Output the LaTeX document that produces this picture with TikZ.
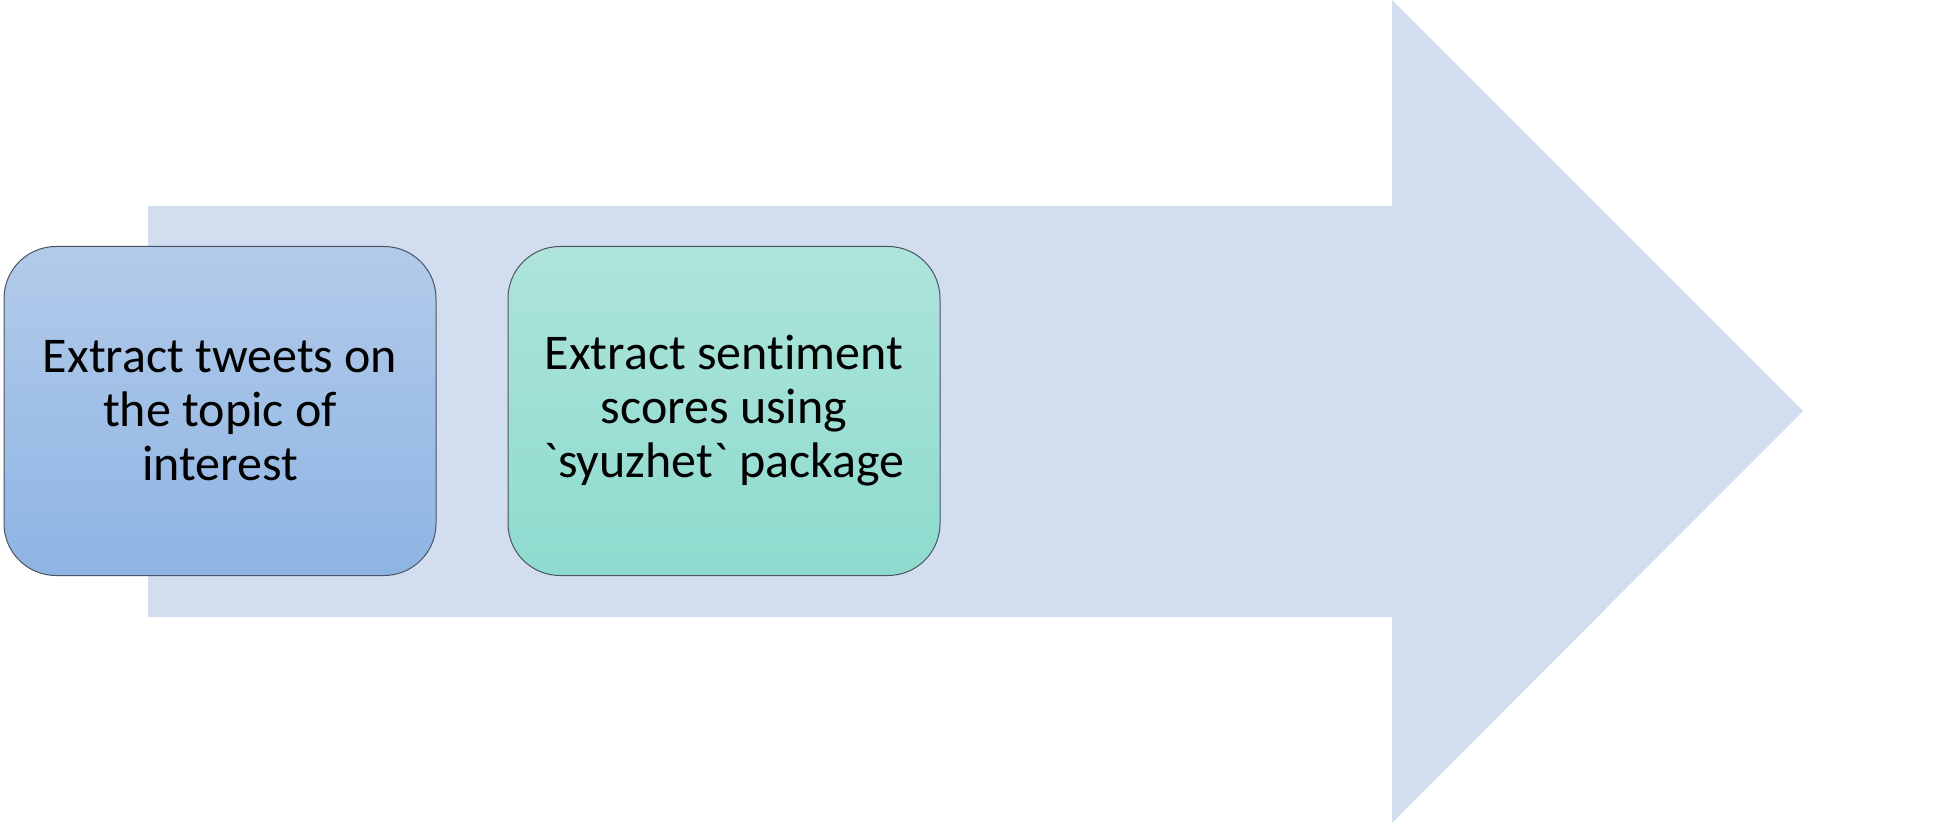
\documentclass[tikz,border=0pt]{standalone}
\usepackage{fontspec}
\setmainfont{Carlito}[Ligatures={TeXOff,NoCommon}]
\usetikzlibrary{calc, positioning}

\definecolor{arrowfill}{HTML}{D2DEEF}
\definecolor{bluetop}{HTML}{B2CBEA}
\definecolor{bluebot}{HTML}{8EB4E3}
\definecolor{greentop}{HTML}{AEE4DB}
\definecolor{greenbot}{HTML}{8DDBCE}
\definecolor{edgegray}{HTML}{4A5360}

\tikzset{
  stepbox/.style={draw=edgegray, line width=0.5pt, rounded corners=26pt,
    minimum width=216pt, minimum height=164.5pt,
    align=center, inner sep=0pt,
    font=\fontsize{25pt}{27pt}\selectfont}
}

\begin{document}
\begin{tikzpicture}[x=0.5pt, y=-0.5pt]
      \useasboundingbox (0,0) rectangle (1949,823);
      % big arrow behind the steps
      \fill[arrowfill] (148,206) -- (1392,206) -- (1392,0) -- (1803,411)
            -- (1392,823) -- (1392,617) -- (148,617) -- cycle;
      \node[stepbox, top color=bluetop, bottom color=bluebot] (tweets) at (220,411)
            {Extract tweets on\\ the topic of\\ interest};
      \node[stepbox, top color=greentop, bottom color=greenbot, right=35.5pt of tweets] (scores)
            {Extract sentiment\\ scores using\\ `syuzhet` package};
  \end{tikzpicture}
\end{document}
